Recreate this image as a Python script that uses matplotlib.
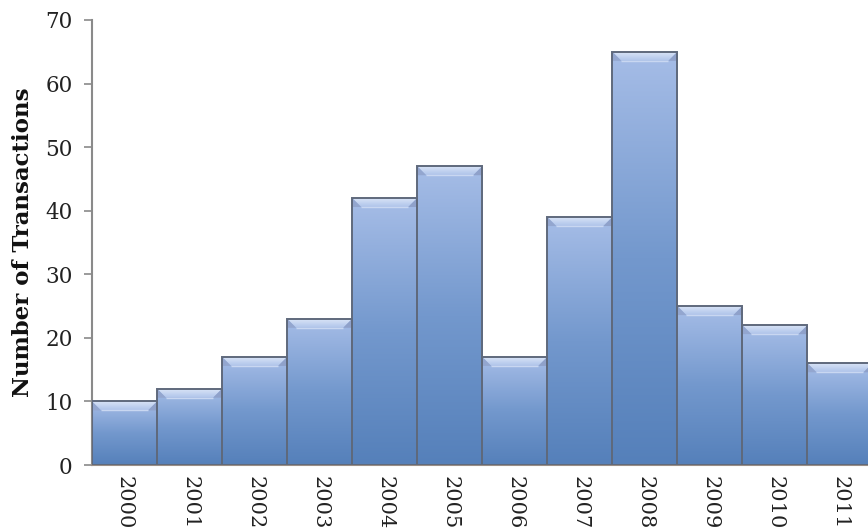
import matplotlib
matplotlib.use("Agg")
import matplotlib.pyplot as plt
import numpy as np
from matplotlib.colors import LinearSegmentedColormap
from matplotlib.patches import Polygon, Rectangle

years = ["2000", "2001", "2002", "2003", "2004", "2005", "2006", "2007", "2008", "2009", "2010", "2011"]
transactions = [10, 12, 17, 23, 42, 47, 17, 39, 65, 25, 22, 16]

plt.rcParams['font.family'] = ['DejaVu Serif']

fig = plt.figure(figsize=(8.68, 5.29), dpi=100)
ax = fig.add_axes([92/868, 64/529, (872.5-92)/868, (465-20)/529])

cmap = LinearSegmentedColormap.from_list("barg", ["#5580ba", "#7398cd", "#a6bde7"])
topcmap = LinearSegmentedColormap.from_list("topg", ["#aec3ea", "#d9e4f6"])
grad = np.linspace(0, 1, 256).reshape(-1, 1)

x = np.arange(len(years))
px_per_unit_y = 445 / 70.0
px_per_unit_x = 65.0
bev_dy = 9 / px_per_unit_y
bev_dx = 9 / px_per_unit_x

for xi, v in zip(x, transactions):
    l, r = xi - 0.5, xi + 0.5
    im = ax.imshow(grad, extent=(l, r, 0, v), origin="lower", aspect="auto",
                   cmap=cmap, zorder=2, interpolation="bilinear")
    rect = Rectangle((l, 0), 1, v, transform=ax.transData)
    im.set_clip_path(rect)
    # bevel top face with gradient
    tim = ax.imshow(grad, extent=(l, r, v - bev_dy, v), origin="lower", aspect="auto",
                    cmap=topcmap, zorder=3, interpolation="bilinear")
    top = Polygon([(l, v), (r, v), (r - bev_dx, v - bev_dy), (l + bev_dx, v - bev_dy)],
                  closed=True, transform=ax.transData)
    tim.set_clip_path(top)
    lside = Polygon([(l, v), (l + bev_dx, v - bev_dy), (l, v - bev_dy)],
                    closed=True, facecolor="#93a6cf", edgecolor="none", zorder=3)
    ax.add_patch(lside)
    rside = Polygon([(r, v), (r - bev_dx, v - bev_dy), (r, v - bev_dy)],
                    closed=True, facecolor="#8fa1ca", edgecolor="none", zorder=3)
    ax.add_patch(rside)
    ax.plot([l + bev_dx, r - bev_dx], [v - bev_dy, v - bev_dy], color="#c9d7f1",
            linewidth=1.0, zorder=3.5, solid_capstyle="butt")
    edge = Rectangle((l, 0), 1, v, facecolor="none", edgecolor="#5f697c", linewidth=1.4, zorder=4)
    ax.add_patch(edge)

ax.set_xlim(-0.5, len(years) - 0.5)
ax.set_ylim(0, 70)
ax.set_yticks(range(0, 71, 10))
ax.set_xticks(x)
ax.set_xticklabels(years, rotation=270, fontsize=15, color="#222222")
ax.tick_params(axis="x", length=0, pad=8)
ax.tick_params(axis="y", length=6, width=1.2, color="#8a8a8a", labelsize=15.5, labelcolor="#222222", pad=8)
for s in ["top", "right"]:
    ax.spines[s].set_visible(False)
ax.spines["left"].set_color("#8a8a8a")
ax.spines["left"].set_linewidth(1.5)
ax.spines["bottom"].set_color("#9a8e86")
ax.spines["bottom"].set_linewidth(1.5)
ax.set_ylabel("Number of Transactions", fontsize=16.5, fontweight="bold", color="#111111", labelpad=8)

fig.savefig("out.png", dpi=100)
